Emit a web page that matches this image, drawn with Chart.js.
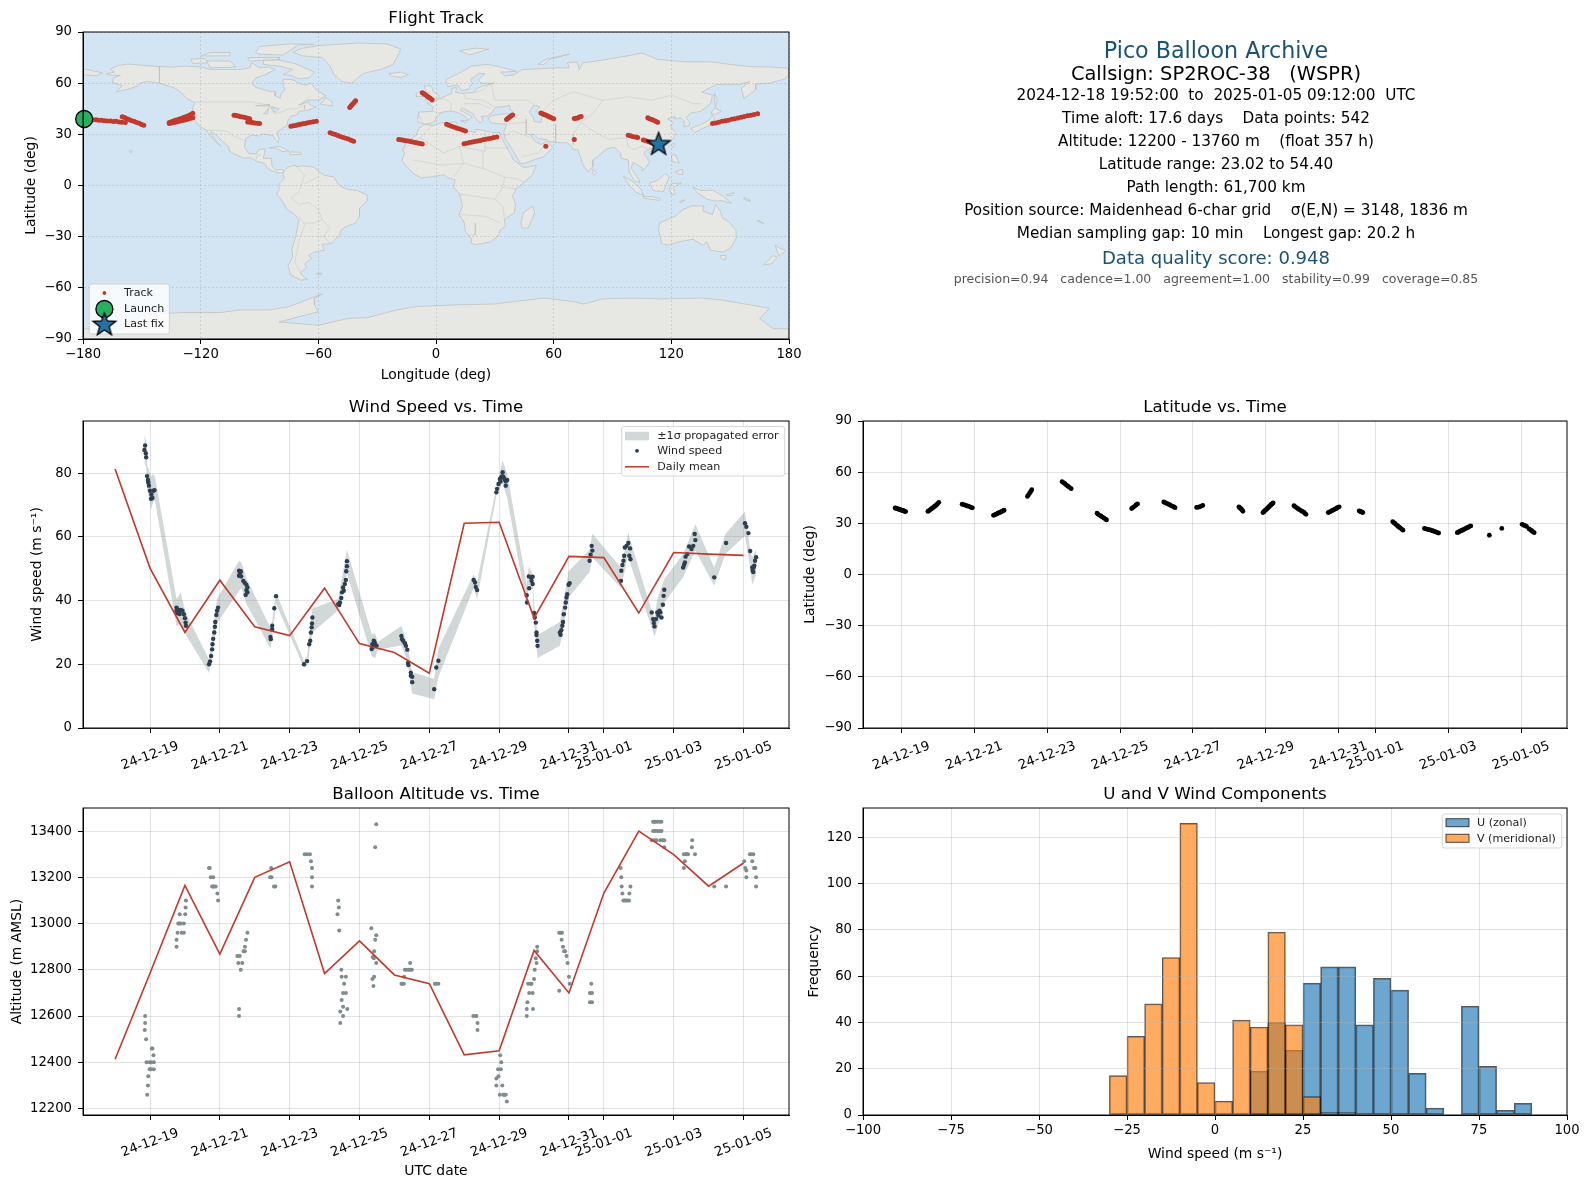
<!DOCTYPE html>
<html>
<head>
<meta charset="utf-8">
<title>Pico Balloon Archive</title>
<script src="https://cdn.jsdelivr.net/npm/chart.js@4/dist/chart.umd.min.js"></script>
<style>
  html, body { margin: 0; background: #fff; }
  body { position: relative; width: 1590px; height: 1189px; overflow: hidden; font-family: "DejaVu Sans", sans-serif; }
  canvas { position: absolute; }
  .info { position: absolute; left: 800px; width: 832px; text-align: center; white-space: pre; transform: translateY(-50%); color: #000; }
</style>
</head>
<body>
<canvas id="mapChart"></canvas>
<canvas id="windChart"></canvas>
<canvas id="latChart"></canvas>
<canvas id="altChart"></canvas>
<canvas id="histChart"></canvas>

<script>
// days are counted from 2024-12-18 00:00 UTC
const dateTicks = [1, 3, 5, 7, 9, 11, 13, 14, 16, 18];
const dateLabels = ["24-12-19", "24-12-21", "24-12-23", "24-12-25", "24-12-27", "24-12-29", "24-12-31", "25-01-01", "25-01-03", "25-01-05"];
const lonTicks = [-180, -120, -60, 0, 60, 120, 180];
const latTicks = [-90, -60, -30, 0, 30, 60, 90];
const windTicks = [0, 20, 40, 60, 80];
const altTicks = [12200, 12400, 12600, 12800, 13000, 13200, 13400];
const histXTicks = [-100, -75, -50, -25, 0, 25, 50, 75, 100];
const histYTicks = [0, 20, 40, 60, 80, 100, 120];

// track fixes, one line per leg
const trackDay = [
  .83, .85, .87, .89, .91, .93, .95, .97, .99, 1.01, 1.03, 1.05, 1.07, 1.09, 1.12,
  1.73, 1.76, 1.79, 1.82, 1.85, 1.88, 1.91, 1.94, 1.97, 2.0, 2.03,
  2.67, 2.71, 2.75, 2.79, 2.83, 2.87, 2.91, 2.95,
  3.53, 3.56, 3.59, 3.62, 3.65, 3.68, 3.71, 3.74, 3.77, 3.8, 3.82,
  4.46, 4.49, 4.52, 4.55, 4.58,
  5.41, 5.45, 5.49, 5.53, 5.57, 5.61, 5.66,
  6.37, 6.4, 6.44, 6.48, 6.52, 6.56, 6.6, 6.63,
  7.32, 7.36, 7.4, 7.44, 7.48,
  8.2, 8.24, 8.28, 8.32, 8.36, 8.4, 8.44, 8.48, 8.51,
  9.1, 9.14, 9.18, 9.23, 9.27,
  10.26, 10.28, 10.31, 10.33, 10.35, 10.37,
  10.92, 10.94, 10.96, 10.98, 11.0, 11.02, 11.04, 11.06, 11.08, 11.1, 11.12, 11.14, 11.16, 11.18, 11.2,
  11.77, 11.8, 11.84, 11.88, 11.92, 11.96, 12.0, 12.04, 12.07, 12.1,
  12.71, 12.74, 12.77, 12.8, 12.83, 12.86, 12.89, 12.92, 12.95, 12.98, 13.01,
  13.56, 13.58, 13.6, 13.62, 13.64, 13.66,
  14.48, 14.51, 14.54, 14.57, 14.6, 14.63, 14.66, 14.69, 14.73, 14.76,
  15.35, 15.39, 15.43, 15.47, 15.51, 15.55, 15.59, 15.63, 15.67, 15.71, 15.74,
  16.25, 16.28, 16.31, 16.34, 16.37, 16.4, 16.43, 16.46, 16.49, 16.52, 16.55, 16.58, 16.62,
  17.13, 17.47,
  18.03, 18.06, 18.09, 18.12, 18.15, 18.22, 18.26, 18.29, 18.32, 18.36
];
const trackLon = [
  -179.3, -178, -176.4, -175, -173.4, -172.1, -170.5, -169, -167.6, -166, -164.4, -163.1, -161.5, -160.1, -158.4,
  -136, -134.9, -133.6, -132.4, -131.1, -130, -128.8, -127.6, -126.3, -125.1, -124,
  -103, -101.9, -100.8, -99.6, -98.5, -97.3, -96.1, -95,
  -74, -72.8, -71.6, -70.4, -69.2, -67.9, -66.7, -65.4, -64, -62.6, -61,
  -44, -43.3, -42.6, -41.8, -41,
  -7, -6.2, -5.4, -4.5, -3.7, -2.9, -2,
  5.4, 6.6, 8, 9.4, 10.7, 12.1, 13.6, 15,
  36, 36.7, 37.4, 38.2, 39,
  53.5, 54.4, 55.1, 55.9, 56.7, 57.4, 58.2, 59.2, 60,
  70.5, 71.3, 72.2, 73.1, 74,
  108, 108.9, 110, 110.9, 112, 113,
  141, 142.6, 144.2, 145.9, 147.5, 149.1, 150.8, 152.3, 154, 155.6, 157.2, 158.9, 160.5, 162.2, 164,
  -160, -158.8, -157.5, -156.3, -155.1, -153.8, -152.6, -151.3, -150.1, -149,
  -136, -134.8, -133.6, -132.3, -131.1, -129.9, -128.7, -127.5, -126.3, -125.1, -124,
  -96, -94.8, -93.6, -92.4, -91.2, -90,
  -54, -52.6, -51.3, -50, -48.7, -47.3, -46, -44.7, -43.3, -42,
  -19, -17.8, -16.6, -15.4, -14.2, -13, -11.8, -10.6, -9.4, -8.1, -7,
  14.3, 15.7, 17.1, 18.5, 19.8, 21.2, 22.6, 24, 25.4, 26.7, 28.1, 29.5, 31,
  56, 70.5,
  98, 99.2, 100.3, 101.6, 102.8, 105.7, 107, 108.4, 109.8, 111
];
const trackLat = [
  39.0, 38.9, 38.7, 38.5, 38.5, 38.2, 38.3, 38.0, 37.8, 37.8, 37.5, 37.6, 37.2, 37.1, 36.9,
  37.0, 37.4, 37.9, 38.4, 38.9, 39.3, 39.9, 40.3, 40.9, 41.6, 42.3,
  41.2, 41.0, 40.7, 40.3, 40.1, 39.8, 39.4, 39.1,
  34.7, 35.0, 35.2, 35.6, 35.9, 36.2, 36.4, 36.8, 37.1, 37.4, 37.7,
  45.8, 46.7, 47.7, 48.7, 49.7,
  54.4, 53.8, 53.2, 52.4, 51.8, 51.1, 50.3,
  35.9, 35.3, 34.7, 34.2, 33.6, 33.1, 32.5, 32.0,
  38.7, 39.4, 40.0, 40.8, 41.4,
  42.5, 42.1, 41.7, 41.3, 40.9, 40.4, 40.0, 39.6, 39.2,
  39.3, 39.5, 39.6, 40.1, 40.5,
  39.7, 39.2, 38.7, 38.2, 37.6, 37.1,
  36.3, 36.7, 37.1, 37.6, 37.9, 38.3, 38.8, 39.2, 39.6, 40.0, 40.4, 40.9, 41.2, 41.6, 42.0,
  40.3, 39.8, 39.2, 38.6, 38.0, 37.5, 37.0, 36.5, 35.8, 35.3,
  36.3, 36.6, 36.9, 37.3, 37.6, 37.9, 38.3, 38.6, 39.0, 39.4, 39.7,
  37.3, 37.1, 36.9, 36.7, 36.5, 36.3,
  31.0, 30.4, 29.9, 29.3, 28.8, 28.2, 27.7, 27.2, 26.5, 26.0,
  27.0, 26.8, 26.5, 26.3, 26.1, 25.8, 25.5, 25.2, 24.9, 24.6, 24.3,
  24.5, 24.8, 25.2, 25.5, 25.8, 26.1, 26.4, 26.8, 27.1, 27.4, 27.7, 28.1, 28.5,
  23.0, 27.0,
  29.4, 29.1, 28.8, 28.5, 28.2, 26.7, 26.2, 25.7, 25.1, 24.5
];
const launchPoint = { x: -179.4, y: 39 };
const lastFixPoint = { x: 113.5, y: 24.7 };

// land outlines, lon/lat pairs
const northAmerica = [-168,65.5,-164,66.5,-166,68.3,-162,70.3,-157,71.2,-150,70.5,-141,69.7,-135,69.4,-128,70,-120,69.5,-115,68,-108,68,-100,68,-95,69,-94,72,-90,69,-85,69.5,-82,68,-87,65,-92,63,-94,60,-92,57.5,-85,55.3,-82,55,-82,52.5,-79.5,51.2,-79,54,-77,56,-78,59,-78,62.3,-73,62,-70,60,-66,58.8,-64,60.3,-61,56,-56,52.5,-60,50.2,-66,50,-70,47.2,-65,49,-64.5,47.5,-61,46,-66,44,-70,43.5,-70.5,41.7,-74,40.5,-75.5,38,-76,35,-78,33.8,-81,31.5,-80,27,-80.5,25.2,-82,27,-83,29.2,-85,29.7,-89,30.2,-90,29,-94,29.6,-97,27.5,-97.7,22.5,-95.5,18.7,-91.5,18.5,-90.5,21,-87,21.5,-88,16,-84,15.8,-83.5,11,-81.5,9,-79,9.5,-77.3,8.7,-78,7.5,-80.5,7.3,-83,8.3,-85.8,10,-87.5,13,-91,14,-94.5,16.2,-98,16,-102,18,-105.5,20.3,-105.5,22.5,-109,26,-112.5,30,-114.7,31.7,-114.8,30,-111,24.5,-109.5,23,-112,25,-115,29,-117,32.5,-120.5,34.5,-122.5,37.5,-124.3,40.3,-124,46,-123,48.5,-127,51,-130,54.5,-133,57,-137,58.5,-141,60,-147,61,-151,60,-152,58.5,-157,56.5,-163,54.8,-160,58.5,-165,60.5,-164.5,63,-161,64.5,-166,64.7];
const greenland = [-73,78.2,-68,80.5,-60,82,-40,83.5,-25,83,-18,80,-20,75,-22,71,-27,68.5,-37,65.7,-43,60,-48,61,-52,65,-54,70,-58,75,-68,76];
const baffin = [-80,73.5,-72,71.5,-67,69,-62,66.5,-65,63,-70,62.5,-74,64.5,-78,65,-73,68,-80,70,-88,71,-88,73.5];
const victoria = [-117,73,-105,73,-102,69.5,-115,69];
const ellesmere = [-90,77,-78,76.5,-70,82.5,-62,82.8,-75,83,-90,81.5,-92,78];
const banks = [-125,74,-118,74.5,-116,72,-124,71.5];
const devon = [-96,75,-80,75,-80,73.8,-95,73];
const queenElizabeth = [-120,76,-105,76,-105,78,-115,78];
const newfoundland = [-59,47.7,-53,46.7,-53,49,-56,51.5];
const cuba = [-85,22,-80,23,-75,20.2,-78,19.8,-82,22];
const hispaniola = [-74.4,19.7,-69,19.5,-68.5,18.3,-74.4,18];
const hawaii = [-156,20.8,-155,19.8,-155.7,19,-156,19.7];
const southAmerica = [-77.3,8.7,-75.5,10.7,-72,12,-71,11,-68,11.5,-62,10.7,-60,8.3,-57,6,-52,5,-50,1,-48,-1,-44,-2.5,-40,-3,-35.2,-5.5,-35,-9,-39,-13.5,-39,-18,-41,-22,-45,-23.7,-48.5,-26,-49,-29,-53.5,-34,-58,-34.5,-57,-38,-62,-39,-65,-41,-63.5,-42.7,-67,-46,-66,-48,-69,-51,-68,-53,-65.5,-55,-69,-55.5,-74,-52.5,-75.5,-47,-73,-42,-73.5,-37,-71.5,-30,-70,-20,-72,-17,-76,-14,-79,-8,-81.3,-5,-80,-2.5,-80,1,-77.5,4,-78,7.5];
const falklands = [-61,-51.5,-58,-51.5,-58.5,-52.3,-60.5,-52.3];
const africa = [-6,35.8,-2,35.2,3,36.8,10,37.3,11,35,10,33.5,15,32.3,20,31,20,32.8,23,32.6,29,31,32.3,31.2,32.6,29.9,35,24.5,37.3,20,39.5,15,43.2,11.8,44.5,10.4,51.2,11.8,49,6,45,2,41,-2,39,-6,40.5,-11,40,-16,35,-20,35.3,-24,32.8,-26,32,-29,28,-33,20,-34.8,18.3,-34,18,-31,15,-27,14.5,-22,11.8,-17,13.5,-12,12,-5,9,-1,9.7,3.5,6,4.5,4,6.3,-3,5,-7.5,4.5,-11.5,7,-15,11,-17.3,14.7,-16,19,-17,21,-14.5,26,-10,29.5,-9,33];
const eurasia = [-9,37,-9.3,38.7,-8.8,43,-2,43.5,-1.2,46,-4.7,48.3,-1.5,48.8,2,51,4,52,8,54,8.3,57,10.5,57.5,10,54.5,14,54,19,54.4,21,57,24,58.5,30,60,23,60,21.5,62,25,65.5,22,65.8,17.5,62,18.5,60,16.5,56.5,13,55.5,11,59,6,58,5,62,12,66,18,70,26,71,31,70,41,67,35,66.5,33,66.5,35,64.2,40,65,44,68,54,68.5,60,69,68,69,67,72,72,72.5,73,68,75,72,85,73.5,100,76.5,105,77.7,113,74,127,72.5,140,72.5,150,71,160,69.7,170,69.5,180,68.8,180,65,178,62.5,170,60,163,59.5,163,56,157,51,155.7,57,160,61,155,59.3,143,59.3,135.5,54.7,141,53,140,48,135,43.5,130,42.5,127.5,39.8,129.4,37,129,35,126.5,34.5,126.5,37.5,125,39.7,121.5,39,122,40.5,118,39,121,37,119.5,35,122,31,121.5,28,117,23.5,113,22,108.5,21.5,105.8,19,109,14,107,10.5,105,8.7,105,10.5,102,12.5,100.5,13.5,99.5,10,103.3,4,104,1.4,101,3,98.5,8,98,15,94.5,16,94,19,91,22.5,87,21.5,82.5,17,80,15,80,11,77.5,8,75,12,73,19,72.5,21,70,21,69,23,67,25,61,25.2,57,25.8,56.5,27,52,27.5,50,30,48,30,50,26.5,51.5,25,54,24,56.3,26,59.7,22.5,55,17,45,13,43,13,39,21,35,28,34.5,31.3,36,36,32,36.2,28,36.7,26.5,39.5,29,41,35,42,41,41.5,38,44.5,37.5,47,33,46,30.5,46,28,42,26,40.7,23,40.5,24,38,22.5,36.6,19.5,40.5,19,42,13.5,45.5,12.3,44.3,18.5,40.2,16,38,15.7,40,10.5,43,7,43.7,3,43,0,40,-0.5,38,-2,36.8,-5.5,36];
const chukotka = [-180,68.5,-170,66,-173,64.3,-180,65];
const australia = [114,-22,113.5,-26,115,-34,118,-35,124,-33,131,-31.5,136,-35,138,-33,140,-38,146,-39,150,-37,153,-31,153,-26,149,-21,146,-19,145,-15,142.5,-11,141,-17,136,-15,136.5,-12,130.5,-12,126,-14,122,-18,118,-20];
const tasmania = [145,-41,148,-41,147.5,-43.5,146,-43.5];
const nzNorth = [173,-35,175.5,-37,178.5,-38,175,-41.5,174,-39];
const nzSouth = [172,-41,174,-42,171,-46,167,-46.5];
const newCaledonia = [164,-20.2,167,-22,166.5,-22.3,164,-20.8];
const newGuinea = [131,-1,135,-3,141,-2.7,146,-6,150.7,-10.5,146,-9,142,-9,138,-8,133,-4];
const newBritain = [148,-5.5,152,-4,151,-6];
const solomons = [157,-7,160,-8.5,160,-9.2,157,-8];
const timor = [124,-9.5,127,-8.4,125,-10];
const borneo = [109,1.5,113,3,117,7,119,5,117.5,1,116,-3.5,111,-3.2,110,-1];
const sumatra = [95.5,5.5,100,2.5,104,-1.5,106,-5.8,102,-4,98,1];
const java = [105.5,-6.5,110,-6.5,114.5,-7.7,114,-8.7,106,-7.5];
const sulawesi = [120,1,125,1.5,121,-1,122,-5,120,-5.5,119,-2];
const luzon = [120,18,122,18,124,13,120.5,14];
const mindanao = [122,8,125.5,9.5,126,6.5,124,6.5];
const honshu = [130,33.5,135,35.7,139.5,38.5,141,41.3,142,39,140.8,35.7,136,33.5,132,31];
const hokkaido = [140,42,142,45.5,145.5,43.5,143,42];
const sakhalin = [142,54,143.5,50,142.5,46,142,50];
const taiwan = [121,25,122,24.5,120.8,22,120,23.5];
const hainan = [109,20,111,19.8,110,18.3,108.7,19];
const sriLanka = [80,9.7,82,7.5,80.5,6,79.7,8];
const madagascar = [49.3,-12,50.3,-16,47,-25,44,-25,43.3,-22,44.5,-16];
const britain = [-5.5,50,1.3,51.2,1.7,52.7,-1.5,55,-2,57.5,-3,58.6,-6,58.3,-5,55,-3,54,-4.5,53.2,-5,51.7];
const ireland = [-10,52,-6,52.2,-6,55,-8.5,55,-10,53.5];
const iceland = [-24,65.5,-18,66.5,-14,65,-18,63.4,-22.5,64];
const sicily = [12.5,38,15.5,38.2,15,36.7];
const svalbard = [12,79,20,80.5,27,80,17,76.5];
const novayaZemlya = [52,71,56,74,68,77,58,74,55,71];
const antarctica = [-180,-84,-160,-84,-150,-76,-130,-74.5,-110,-74.5,-100,-73,-85,-73,-75,-71,-68,-68,-58,-63.5,-62,-66,-62,-70,-60,-74,-70,-77,-80,-80,-60,-82,-45,-78,-35,-77.5,-20,-73,-10,-71,10,-70,30,-69.5,40,-68,55,-66,70,-68,75,-69.5,85,-66.5,100,-66,115,-66.5,135,-66,145,-67,160,-70,170,-72,165,-78,172,-84,180,-84,180,-90,-180,-90];
const landShapes = [northAmerica, greenland, baffin, victoria, ellesmere, banks, devon, queenElizabeth, newfoundland, cuba, hispaniola, hawaii, southAmerica, falklands, africa, eurasia, chukotka, australia, tasmania, nzNorth, nzSouth, newCaledonia, newGuinea, newBritain, solomons, timor, borneo, sumatra, java, sulawesi, luzon, mindanao, honshu, hokkaido, sakhalin, taiwan, hainan, sriLanka, madagascar, britain, ireland, iceland, sicily, svalbard, novayaZemlya, antarctica];

const caspian = [50,47,53,46,51,44,54,40,53.5,37,50,37.5,49.5,40.5,47.5,43];
const superior = [-92,46.8,-85,47.5,-85,46.6,-89,46.7];
const michigan = [-88,42,-85,45.8,-86,42];
const huron = [-84,46,-80,45,-82,43,-83.5,44];
const waterShapes = [caspian, superior, michigan, huron];

// a few faint country lines
const borderLines = [
  [-123,49,-95,49,-89,48,-83,46,-82.5,42,-79,43,-75,45,-71,45,-67,47,-67,45],
  [-141,69.7,-141,60],
  [-117,32.5,-106.5,31.8,-103,29,-97.5,26],
  [-92,14.5,-91,17.5,-89,18],
  [-72,12,-67,6,-70,-4,-74,-7,-70,-11,-65,-10,-60,-14,-58,-20,-54,-25,-57.5,-30,-53.5,-34],
  [-70,-18,-67,-23,-70,-33,-72,-45,-69,-51],
  [-67,1,-60,5],
  [-58,-20,-62,-22,-67,-22],
  [-2,35,-8,28,-17,21],
  [-8,28,4,19,12,23,25,20,25,31],
  [25,22,37,22],
  [12,23,14,13,3,12,-12,15],
  [14,13,9,5],
  [24,10,24,20],
  [14,13,24,10,35,5,41,4,45,2],
  [34,-1,41,-2],
  [12,-5,30,-8,34,-1,35,5],
  [12,-17,25,-18,33,-22],
  [20,-22,20,-29,17,-29],
  [30,-8,34,-12,35,-20],
  [28,60,30,50,40,50,47,50,50,47],
  [53,42,60,50,70,55,85,50,98,52,110,50,120,53,131,48,135,48],
  [85,50,80,42,74,37,70,30,70,24],
  [74,37,80,32,88,27,97,28,98,23,101,21,105,23,108,21.5],
  [61,36,61,25],
  [46,39,46,30,48,30],
  [36,36,46,37],
  [35,29,39,32,46,29,48,28],
  [44,17,52,19,56,24],
  [2,51,6,50,8,48,7.5,44],
  [-2,43.5,3,42.5],
  [-9,42,-7,37],
  [14,54,15,51,24,50,30,46],
  [14,48,22,48,28,45],
  [19,54.4,24,56,28,60]
];

// wind speed scatter
const windDay = [
  .86, .84, .88, .89, .915, .94, .95, .97, 1.0, 1.04, 1.03, 1.07, 1.1, 1.13,
  1.76, 1.76, 1.79, 1.83, 1.88, 1.93, 1.97, 2.0, 2.02, 2.03, 1.85, 1.78,
  2.69, 2.72, 2.75, 2.78, 2.79, 2.81, 2.84, 2.86, 2.87, 2.9, 2.92, 2.95,
  3.55, 3.59, 3.55, 3.61, 3.67, 3.71, 3.76, 3.79, 3.76, 3.79, 3.74, 3.57, 3.6,
  4.46, 4.45, 4.5, 4.5, 4.56, 4.61,
  5.41, 5.5, 5.56, 5.59, 5.61, 5.63, 5.64, 5.65,
  6.39, 6.44, 6.42, 6.48, 6.5, 6.55, 6.53, 6.58, 6.61, 6.62, 6.64, 6.64,
  7.35, 7.37, 7.41, 7.45, 7.39, 7.49, 7.43,
  8.2, 8.22, 8.25, 8.3, 8.33, 8.37, 8.39, 8.4, 8.47, 8.47, 8.51, 8.51,
  9.14, 9.2, 9.26,
  10.27, 10.31, 10.33, 10.37,
  10.92, 10.94, 10.98, 11.02, 11.06, 11.1, 11.12, 11.15, 11.19, 11.23, 11.19, 11.08, 11.04,
  11.79, 11.8, 11.86, 11.85, 11.91, 11.96, 11.93, 11.96, 12.0, 12.02, 12.05, 12.07, 12.07, 12.09, 12.1,
  12.74, 12.78, 12.81, 12.83, 12.85, 12.89, 12.91, 12.93, 12.95, 12.99, 13.02, 12.76,
  13.59, 13.62, 13.67, 13.65,
  14.49, 14.5, 14.53, 14.56, 14.58, 14.6, 14.65, 14.7, 14.75, 14.76, 14.73,
  15.37, 15.41, 15.45, 15.49, 15.53, 15.59, 15.62, 15.65, 15.69, 15.71, 15.73, 15.43, 15.56,
  16.27, 16.32, 16.34, 16.39, 16.44, 16.51, 16.56, 16.62, 16.6, 16.3,
  17.16, 17.5,
  18.04, 18.08, 18.14, 18.19, 18.25, 18.28, 18.31, 18.33, 18.36, 18.26, 18.29
];
const windSpeed = [
  88.7, 87.3, 86.3, 85.0, 79.1, 77.9, 77.1, 76.1, 74.5, 73.3, 72.0, 72.2, 74.5, 74.7,
  37.8, 36.8, 36.0, 37.0, 37.1, 36.8, 35.7, 34.5, 33.1, 32.1, 35.8, 37.2,
  20.0, 20.9, 22.6, 24.7, 26.3, 28.0, 30.0, 31.8, 33.3, 35.5, 36.8, 37.8,
  49.4, 48.8, 47.8, 47.6, 46.2, 45.6, 45.0, 44.1, 43.3, 42.6, 41.8, 48.2, 49.2,
  27.9, 28.6, 31.0, 32.1, 37.6, 41.4,
  20.0, 21.0, 26.3, 27.4, 30.0, 31.6, 32.8, 34.7,
  38.9, 39.4, 38.6, 40.8, 42.6, 43.1, 44.1, 45.2, 46.5, 49.2, 50.8, 52.4,
  24.8, 26.3, 27.4, 26.3, 25.5, 25.8, 27.0,
  28.9, 27.9, 27.4, 26.6, 25.8, 24.6, 20.4, 19.8, 17.4, 16.4, 16.1, 14.4,
  12.2, 19.0, 21.1,
  46.5, 45.7, 44.3, 43.3,
  74.0, 75.1, 76.6, 78.2, 78.7, 80.3, 78.9, 78.2, 77.5, 77.9, 76.1, 79.0, 77.4,
  41.7, 39.4, 43.9, 47.6, 47.3, 47.5, 46.2, 45.2, 36.1, 34.7, 33.1, 30.0, 29.2, 27.4, 25.8,
  30.0, 30.7, 32.1, 33.3, 35.7, 37.8, 39.4, 41.0, 42.0, 45.0, 45.5, 29.3,
  52.5, 54.4, 55.7, 57.2,
  46.2, 49.4, 51.2, 52.5, 54.1, 56.7, 57.2, 58.1, 56.4, 53.0, 54.1,
  36.3, 34.2, 31.9, 34.2, 36.3, 36.8, 36.3, 34.7, 38.7, 41.5, 43.4, 33.0, 35.3,
  50.4, 52.0, 53.8, 54.6, 57.0, 56.2, 57.2, 59.0, 60.9, 51.3,
  47.3, 58.1,
  64.3, 63.2, 61.2, 55.6, 50.4, 49.0, 51.0, 52.5, 53.6, 49.4, 50.4
];

// error band outline
const bandDay = [.84, .89, .92, 1.03, 1.09, 1.14, 1.76, 1.88, 1.92, 2.03, 2.69, 2.92, 3.55, 3.62, 3.76, 4.45, 4.5, 4.61, 5.41, 5.5, 5.65, 6.39, 6.64, 7.35, 7.45, 7.52, 8.2, 8.37, 8.51, 9.14, 9.26, 10.27, 10.37, 10.92, 11.1, 11.23, 11.79, 11.85, 11.96, 12.0, 12.1, 12.74, 12.99, 13.59, 13.67, 14.49, 14.7, 14.76, 15.37, 15.45, 15.53, 15.73, 16.27, 16.62, 17.16, 17.48, 18.04, 18.19, 18.25, 18.36];
const bandHigh = [92.4, 90, 82.5, 79, 79.8, 79, 40.5, 42.5, 40.5, 36, 21.5, 40.5, 52.5, 52, 47, 31.5, 33.5, 42.5, 21, 22.5, 37.5, 40.5, 56, 29.5, 29.7, 27, 32, 26.5, 17.5, 15.5, 25, 48.3, 46, 75.6, 84, 79.8, 45, 50.7, 48.3, 39, 29.2, 33.3, 49.2, 56, 61, 50.4, 61.4, 58.8, 36.8, 34.7, 40.5, 46.7, 54.6, 64, 50.4, 60.9, 68, 56, 53.6, 56];
const bandLow = [83, 82, 75, 68.5, 71, 71.5, 32, 32.5, 31.5, 29.3, 17.3, 33, 43, 44, 39, 25, 28.5, 39, 19, 19.5, 30, 37, 48.5, 22.5, 22, 24.5, 26, 21, 10.8, 9, 16, 44, 40.5, 73, 77, 72.2, 38, 45, 43.6, 33, 22, 25.8, 41, 49, 53.6, 44, 54.6, 51.5, 31.5, 28.7, 31.5, 39.4, 47.3, 55.7, 44.7, 54.6, 60.4, 50.4, 45, 48.3];

const meanDays = [0, 1, 2, 3, 4, 5, 6, 7, 8, 9, 10, 11, 12, 13, 14, 15, 16, 17, 18];
const windMean = [81.3, 50.2, 30, 46.4, 31.8, 29, 43.9, 26.5, 23.7, 17.2, 64.3, 64.6, 34.5, 53.9, 53.5, 36.1, 55.1, 54.6, 54.2];
const altMean = [12413, 12785, 13165, 12868, 13200, 13267, 12784, 12925, 12778, 12740, 12432, 12450, 12884, 12700, 13132, 13400, 13298, 13162, 13262];

// altitude scatter
const altDay = [
  .86, .86, .85, .89, 1.07, 1.05, 1.1, .9, .99, 1.11, 1.04, .99, 1.11, 1.03, .95, .94, .92,
  2.03, 2.02, 1.85, 2.01, 1.81, 1.88, 1.97, 1.84, 1.79, 1.91, 1.97, 1.76, 1.76,
  2.71, 2.74, 2.81, 2.78, 2.81, 2.88, 2.84, 2.93, 2.95, 2.69,
  3.79, 3.75, 3.72, 3.68, 3.72, 3.57, 3.53, 3.64, 3.6, 3.55, 3.55, 3.5,
  4.47, 4.48, 4.44, 4.59, 4.55,
  5.43, 5.5, 5.58, 5.61, 5.64, 5.64, 5.64,
  6.39, 6.41, 6.37, 6.42, 6.48, 6.49, 6.61, 6.56, 6.53, 6.61, 6.49, 6.53, 6.65, 6.45, 6.53, 6.45,
  7.48, 7.45, 7.34, 7.48, 7.45, 7.42, 7.38, 7.41, 7.48, 7.42, 7.37, 7.4,
  8.45, 8.3, 8.4, 8.5, 8.28, 8.2, 8.27, 8.23, 8.34, 8.45,
  9.16, 9.26, 9.2,
  10.26, 10.35, 10.38, 10.38, 10.31,
  11.03, 11.06, 10.97, 11.05, 10.98, 10.92, 10.92, 11.09, 11.02, 11.12, 11.19, 11.22, 11.15,
  12.09, 12.09, 12.05, 12.07, 12.02, 12.0, 11.83, 11.93, 11.86, 11.96, 11.81, 11.79, 11.97, 11.79, 11.9,
  12.72, 12.8, 12.79, 12.83, 12.89, 12.93, 12.96, 13.0, 13.02, 12.72, 12.76, 12.86,
  13.64, 13.6, 13.66, 13.6, 13.66,
  14.48, 14.5, 14.51, 14.76, 14.53, 14.73, 14.56, 14.63, 14.72, 14.6, 14.67,
  15.41, 15.47, 15.53, 15.6, 15.65, 15.41, 15.53, 15.65, 15.37, 15.51, 15.62, 15.73, 15.73, 15.44, 15.68, 15.47, 15.59, 15.44,
  16.53, 16.52, 16.29, 16.41, 16.61, 16.32, 16.29, 16.35, 16.37,
  17.16, 17.5,
  18.02, 18.05, 18.08, 18.08, 18.18, 18.28, 18.25, 18.34, 18.36, 18.36, 18.22, 18.3
];
const altValue = [
  12600, 12570, 12540, 12500, 12460, 12460, 12430, 12400, 12400, 12400, 12400, 12370, 12370, 12370, 12340, 12300, 12260,
  13100, 13070, 13040, 13040, 13000, 13000, 13000, 13000, 12960, 12960, 12960, 12930, 12900,
  13240, 13200, 13200, 13160, 13160, 13160, 13160, 13130, 13100, 13240,
  12960, 12930, 12900, 12880, 12880, 12860, 12830, 12830, 12800, 12630, 12600, 12860,
  13240, 13200, 13200, 13160, 13160,
  13300, 13300, 13300, 13270, 13240, 13200, 13160,
  13100, 13070, 13040, 12970, 12800, 12770, 12770, 12740, 12700, 12700, 12670, 12640, 12630, 12620, 12600, 12570,
  13430, 13330, 12980, 12950, 12930, 12880, 12855, 12850, 12830, 12770, 12760, 12730,
  12830, 12800, 12800, 12800, 12770, 12740, 12740, 12740, 12800, 12800,
  12740, 12740, 12740,
  12600, 12600, 12570, 12540, 12600,
  12430, 12400, 12370, 12370, 12340, 12330, 12300, 12300, 12260, 12260, 12260, 12230, 12260,
  12900, 12880, 12850, 12830, 12800, 12760, 12740, 12740, 12700, 12700, 12660, 12630, 12630, 12600, 12740,
  12960, 12960, 12930, 12900, 12880, 12860, 12830, 12770, 12740, 12710, 12960, 12880,
  12740, 12700, 12700, 12660, 12660,
  13240, 13200, 13160, 13160, 13130, 13130, 13100, 13100, 13100, 13100, 13100,
  13440, 13440, 13440, 13440, 13440, 13400, 13400, 13400, 13360, 13360, 13360, 13360, 13330, 13440, 13360, 13400, 13400, 13360,
  13360, 13330, 13300, 13300, 13300, 13270, 13240, 13300, 13300,
  13160, 13160,
  13270, 13240, 13230, 13200, 13300, 13300, 13270, 13240, 13200, 13160, 13300, 13240
];

// wind component histogram, 5 m/s bins
const histCentres = [-27.5, -22.5, -17.5, -12.5, -7.5, -2.5, 2.5, 7.5, 12.5, 17.5, 22.5, 27.5, 32.5, 37.5, 42.5, 47.5, 52.5, 57.5, 62.5, 67.5, 72.5, 77.5, 82.5, 87.5];
const uCounts = [null, null, null, null, null, null, null, null, 19, 40, 28, 57, 64, 64, 39, 59, 54, 18, 3, null, 47, 21, 2, 5];
const vCounts = [17, 34, 48, 68, 126, 14, 6, 41, 38, 79, 39, 8, 1, 1, null, null, null, null, null, null, null, null, null, null];

const infoLines = [
  ["Pico Balloon Archive", 50, 22.2, "#1a5276"],
  ["Callsign: SP2ROC-38   (WSPR)", 73.3, 19.44, "#000"],
  ["2024-12-18 19:52:00  to  2025-01-05 09:12:00  UTC", 94.5, 15.28, "#000"],
  ["Time aloft: 17.6 days    Data points: 542", 117.5, 15.28, "#000"],
  ["Altitude: 12200 - 13760 m    (float 357 h)", 140.5, 15.28, "#000"],
  ["Latitude range: 23.02 to 54.40", 163.5, 15.28, "#000"],
  ["Path length: 61,700 km", 186.5, 15.28, "#000"],
  ["Position source: Maidenhead 6-char grid    σ(E,N) = 3148, 1836 m", 209.5, 15.28, "#000"],
  ["Median sampling gap: 10 min    Longest gap: 20.2 h", 232.5, 15.28, "#000"],
  ["Data quality score: 0.948", 257, 18.05, "#1a5276"],
  ["precision=0.94   cadence=1.00   agreement=1.00   stability=0.99   coverage=0.85", 278, 12.5, "#555"]
];

infoLines.forEach(([text, y, size, color]) => {
  const el = document.createElement("div");
  el.className = "info";
  el.textContent = text;
  el.style.top = y + "px";
  el.style.fontSize = size + "px";
  el.style.color = color;
  document.body.appendChild(el);
});

Chart.defaults.font.family = '"DejaVu Sans", sans-serif';
Chart.defaults.font.size = 13.2;
Chart.defaults.color = "#000";
Chart.defaults.devicePixelRatio = 1;

const RED = "#c0392b";
const GRID = "rgba(176,176,176,0.35)";
const TITLE_H = 23;

const toPoints = flat => {
  const out = [];
  for (let i = 0; i < flat.length; i += 2) out.push({ x: flat[i], y: flat[i + 1] });
  return out;
};
const zipXY = (xs, ys) => xs.map((x, i) => ({ x, y: ys[i] }));

// 5-point star used for the last fix marker
const makeStar = (r, color) => {
  const c = document.createElement("canvas");
  c.width = c.height = Math.ceil(r * 2 + 4);
  const g = c.getContext("2d");
  g.translate(c.width / 2, c.height / 2 + 1);
  g.beginPath();
  for (let i = 0; i < 10; i++) {
    const rr = i % 2 ? r * 0.42 : r;
    const a = -Math.PI / 2 + i * Math.PI / 5;
    g[i ? "lineTo" : "moveTo"](rr * Math.cos(a), rr * Math.sin(a));
  }
  g.closePath();
  g.fillStyle = color;
  g.fill();
  g.lineWidth = 1.3;
  g.strokeStyle = "#000";
  g.stroke();
  return c;
};
const starIcon = makeStar(12, "#2471a3");

// spines, ocean colour, rotated date labels and the matplotlib style legend box
const panel = ({ bg, dates, legend }) => ({
  id: "panel",
  beforeDraw(chart) {
    if (!bg) return;
    const a = chart.chartArea;
    chart.ctx.fillStyle = bg;
    chart.ctx.fillRect(a.left, a.top, a.right - a.left, a.bottom - a.top);
  },
  afterDraw(chart) {
    const { ctx, chartArea: a, scales } = chart;
    ctx.save();
    ctx.strokeStyle = "#000";
    ctx.lineWidth = 1;
    ctx.strokeRect(a.left, a.top, a.right - a.left, a.bottom - a.top);
    if (dates) {
      ctx.font = '13.2px "DejaVu Sans"';
      ctx.fillStyle = "#000";
      ctx.textAlign = "center";
      ctx.textBaseline = "middle";
      dateTicks.forEach((d, i) => {
        ctx.save();
        ctx.translate(scales.x.getPixelForValue(d), a.bottom + 28);
        ctx.rotate(-20 * Math.PI / 180);
        ctx.fillText(dateLabels[i], 0, 0);
        ctx.restore();
      });
    }
    if (legend) drawLegend(ctx, a, legend);
    ctx.restore();
  }
});

function drawLegend(ctx, a, lg) {
  ctx.save();
  ctx.translate(lg.x, lg.y);
  ctx.fillStyle = "rgba(255,255,255,0.8)";
  ctx.strokeStyle = "rgba(204,204,204,0.8)";
  ctx.lineWidth = 1;
  ctx.beginPath();
  ctx.roundRect(0, 0, lg.w, lg.h, 2.5);
  ctx.fill();
  ctx.stroke();
  ctx.font = '11.1px "DejaVu Sans"';
  ctx.textAlign = "left";
  ctx.textBaseline = "middle";
  lg.items.forEach(it => {
    const cx = lg.swatchX + 12;
    if (it.kind === "band") {
      ctx.fillStyle = it.color;
      ctx.fillRect(lg.swatchX, it.y - 4, 24, 8.5);
    } else if (it.kind === "bar") {
      ctx.fillStyle = it.color;
      ctx.fillRect(lg.swatchX, it.y - 4, 23, 8);
      ctx.strokeStyle = "rgba(0,0,0,0.7)";
      ctx.strokeRect(lg.swatchX, it.y - 4, 23, 8);
    } else if (it.kind === "line") {
      ctx.strokeStyle = it.color;
      ctx.lineWidth = 1.5;
      ctx.beginPath();
      ctx.moveTo(lg.swatchX, it.y);
      ctx.lineTo(lg.swatchX + 24, it.y);
      ctx.stroke();
    } else if (it.kind === "dot") {
      ctx.fillStyle = it.color;
      ctx.beginPath();
      ctx.arc(cx, it.y, 1.9, 0, 7);
      ctx.fill();
    } else if (it.kind === "circle") {
      ctx.fillStyle = it.color;
      ctx.strokeStyle = "#000";
      ctx.lineWidth = 1.3;
      ctx.beginPath();
      ctx.arc(cx, it.y, 8.5, 0, 7);
      ctx.fill();
      ctx.stroke();
    } else if (it.kind === "star") {
      ctx.drawImage(starIcon, cx - starIcon.width / 2, it.y - starIcon.height / 2);
    }
    ctx.fillStyle = "#222";
    ctx.fillText(it.label, lg.textX, it.y + 0.5);
  });
  ctx.restore();
}

// one canvas per axes, sized so the plot box lands on given pixels
function makeChart(id, box, cfg) {
  const el = document.getElementById(id);
  const top = box.top - TITLE_H;
  const width = box.canvasRight - box.canvasLeft;
  const height = box.bottom + box.below - top;
  el.width = width;
  el.height = height;
  el.style.left = box.canvasLeft + "px";
  el.style.top = top + "px";

  const fit = size => s => {
    if (s.isHorizontal()) s.height = size; else s.width = size;
    s.paddingLeft = s.paddingRight = s.paddingTop = s.paddingBottom = 0;
  };
  const axisTicks = list => s => { s.ticks = list.map(v => ({ value: v })); };
  const tickText = v => String(v).replace("-", "\u2212");
  const gridOpts = z => ({ color: cfg.gridColor || GRID, lineWidth: 1, tickColor: "#000", tickLength: 5, tickWidth: 1, z: z, offset: false });
  const borderOpts = { color: "#000", width: 1, z: cfg.gridZ ? 2 : 0, dash: cfg.gridDash || [] };

  return new Chart(el, {
    type: cfg.type,
    data: { datasets: cfg.datasets },
    plugins: [panel(cfg)],
    options: {
      responsive: false,
      animation: false,
      events: [],
      layout: { padding: { left: 0, top: 0, right: box.canvasRight - box.right, bottom: 0 } },
      plugins: {
        legend: { display: false },
        tooltip: { enabled: false },
        title: { display: true, text: cfg.title, fullSize: false, color: "#000",
                 font: { size: 16.67, weight: "normal" }, padding: { top: 0, bottom: 3 } }
      },
      scales: {
        x: {
          type: "linear", min: cfg.xMin, max: cfg.xMax, offset: false,
          grid: gridOpts(cfg.gridZ || 0),
          border: borderOpts,
          title: { display: !!cfg.xTitle, text: cfg.xTitle, padding: 0, font: { size: 13.9 } },
          ticks: { display: !cfg.dates, callback: tickText, padding: 3, maxRotation: 0, autoSkip: false },
          afterBuildTicks: axisTicks(cfg.xTicks),
          afterFit: fit(box.below)
        },
        y: {
          type: "linear", min: cfg.yMin, max: cfg.yMax,
          grid: gridOpts(cfg.gridZ || 0),
          border: borderOpts,
          title: { display: true, text: cfg.yTitle, font: { size: 13.9 }, padding: { top: box.yTitlePad, bottom: 0 } },
          ticks: { callback: tickText, padding: 6, autoSkip: false },
          afterBuildTicks: axisTicks(cfg.yTicks),
          afterFit: fit(box.left - box.canvasLeft)
        }
      }
    }
  });
}

const scatterSet = (data, color, radius, order) => ({
  type: "scatter", data, order, pointRadius: radius, pointBackgroundColor: color, pointBorderWidth: 0, showLine: false
});
const lineSet = (data, order) => ({
  type: "scatter", data, order, showLine: true, tension: 0, pointRadius: 0, borderColor: RED, borderWidth: 1.6, fill: false
});

// ---- flight track map
const mapSets = [];
landShapes.forEach(s => mapSets.push({
  type: "scatter", data: toPoints(s.concat(s.slice(0, 2))), order: 10, showLine: true, tension: 0, pointRadius: 0,
  borderColor: "#bfc3c3", borderWidth: 0.8, backgroundColor: "#e7e8e4", fill: "shape"
}));
waterShapes.forEach(s => mapSets.push({
  type: "scatter", data: toPoints(s.concat(s.slice(0, 2))), order: 9, showLine: true, tension: 0, pointRadius: 0,
  borderColor: "#bfc3c3", borderWidth: 0.8, backgroundColor: "#d3e5f2", fill: "shape"
}));
borderLines.forEach(s => mapSets.push({
  type: "scatter", data: toPoints(s), order: 8, showLine: true, tension: 0, pointRadius: 0,
  borderColor: "rgba(170,172,170,0.4)", borderWidth: 0.7, fill: false
}));
mapSets.push(scatterSet(zipXY(trackLon, trackLat), RED, 2.5, 3));
mapSets.push({ type: "scatter", data: [launchPoint], order: 2, clip: false, pointRadius: 8.5,
  pointBackgroundColor: "#27ae60", pointBorderColor: "#000", pointBorderWidth: 1.3 });
mapSets.push({ type: "scatter", data: [lastFixPoint], order: 1, clip: false, pointStyle: starIcon, pointRadius: 12 });

makeChart("mapChart",
  { canvasLeft: 0, canvasRight: 815, left: 83, right: 789, top: 32, bottom: 339, below: 45, yTitlePad: 23.2 },
  { type: "scatter", title: "Flight Track", datasets: mapSets, bg: "#d3e5f2", gridZ: 1,
    gridColor: "rgba(150,150,150,0.3)", gridDash: [2, 2],
    xMin: -180, xMax: 180, xTicks: lonTicks, xTitle: "Longitude (deg)",
    yMin: -90, yMax: 90, yTicks: latTicks, yTitle: "Latitude (deg)",
    legend: { x: 89.3, y: 284 - 9, w: 80, h: 50, swatchX: 3.1, textX: 34.7, items: [
      { label: "Track", kind: "dot", color: RED, y: 9 },
      { label: "Launch", kind: "circle", color: "#27ae60", y: 25 },
      { label: "Last fix", kind: "star", y: 40 }
    ] } });

// ---- wind speed
makeChart("windChart",
  { canvasLeft: 0, canvasRight: 815, left: 83, right: 789, top: 421, bottom: 728, below: 60, yTitlePad: 29.2 },
  { type: "scatter", title: "Wind Speed vs. Time", dates: true,
    datasets: [
      { type: "scatter", data: zipXY(bandDay, bandHigh), order: 6, showLine: true, tension: 0, pointRadius: 0, borderWidth: 0,
        backgroundColor: "rgba(127,140,141,0.35)", fill: "+1" },
      { type: "scatter", data: zipXY(bandDay, bandLow), order: 7, showLine: true, tension: 0, pointRadius: 0, borderWidth: 0, fill: false },
      scatterSet(zipXY(windDay, windSpeed), "#2c3e50", 2.2, 3),
      lineSet(zipXY(meanDays, windMean), 2)
    ],
    xMin: -0.919, xMax: 19.302, xTicks: dateTicks,
    yMin: 0, yMax: 96.4, yTicks: windTicks, yTitle: "Wind speed (m s\u207B\u00B9)",
    legend: { x: 621.7, y: 426.5 - 398, w: 163, h: 49.5, swatchX: 3.3, textX: 35.6, items: [
      { label: "\u00B11\u03C3 propagated error", kind: "band", color: "rgba(127,140,141,0.35)", y: 9.3 },
      { label: "Wind speed", kind: "dot", color: "#2c3e50", y: 24.3 },
      { label: "Daily mean", kind: "line", color: RED, y: 40.3 }
    ] } });

// ---- latitude
makeChart("latChart",
  { canvasLeft: 800, canvasRight: 1590, left: 863, right: 1567, top: 421, bottom: 728, below: 60, yTitlePad: 1.7 },
  { type: "scatter", title: "Latitude vs. Time", dates: true,
    datasets: [scatterSet(zipXY(trackDay, trackLat), "#000", 2.4, 3)],
    xMin: -0.05, xMax: 19.26, xTicks: dateTicks,
    yMin: -90, yMax: 90, yTicks: latTicks, yTitle: "Latitude (deg)" });

// ---- altitude
makeChart("altChart",
  { canvasLeft: 0, canvasRight: 815, left: 83, right: 789, top: 808, bottom: 1115, below: 65, yTitlePad: 8.7 },
  { type: "scatter", title: "Balloon Altitude vs. Time", dates: true,
    datasets: [
      scatterSet(zipXY(altDay, altValue), "#7f8c8d", 2, 3),
      lineSet(zipXY(meanDays, altMean), 2)
    ],
    xMin: -0.919, xMax: 19.302, xTicks: dateTicks, xTitle: "UTC date",
    yMin: 12172, yMax: 13500, yTicks: altTicks, yTitle: "Altitude (m AMSL)" });

// ---- histogram
const histSet = (label, counts, color, edge, order) => ({
  type: "bar", label, order, grouped: false, barPercentage: 1, categoryPercentage: 1,
  data: histCentres.map((x, i) => ({ x, y: counts[i] })).filter(p => p.y !== null),
  backgroundColor: color, borderColor: edge, borderWidth: 1.1, borderSkipped: false
});
makeChart("histChart",
  { canvasLeft: 800, canvasRight: 1590, left: 863, right: 1567, top: 808, bottom: 1115, below: 48, yTitlePad: 6.2 },
  { type: "bar", title: "U and V Wind Components", gridZ: 1,
    datasets: [
      histSet("U (zonal)", uCounts, "rgba(31,119,180,0.65)", "rgba(0,0,0,0.65)", 2),
      histSet("V (meridional)", vCounts, "rgba(255,127,14,0.65)", "rgba(0,0,0,0.65)", 1)
    ],
    xMin: -100, xMax: 100, xTicks: histXTicks, xTitle: "Wind speed (m s\u207B\u00B9)",
    yMin: 0, yMax: 132.6, yTicks: histYTicks, yTitle: "Frequency",
    legend: { x: 1442.3 - 800, y: 814 - 785, w: 119.5, h: 34, swatchX: 3.7, textX: 34.7, items: [
      { label: "U (zonal)", kind: "bar", color: "rgba(31,119,180,0.65)", y: 8.7 },
      { label: "V (meridional)", kind: "bar", color: "rgba(255,127,14,0.65)", y: 24.3 }
    ] } });
</script>
</body>
</html>
